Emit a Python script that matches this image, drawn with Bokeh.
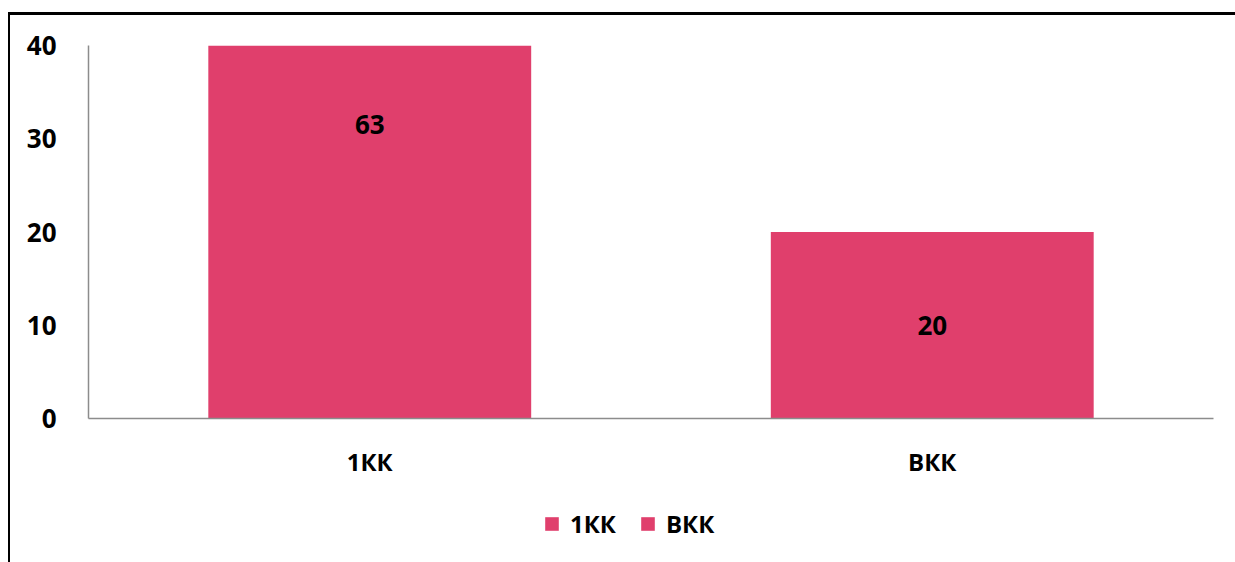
from bokeh.plotting import figure
from bokeh.models import ColumnDataSource, FactorRange, Range1d, Legend, LegendItem, LabelSet
from bokeh.core.properties import value
from bokeh.layouts import column
from bokeh.embed import file_html
from bokeh.resources import INLINE

categories = ["1КК", "ВКК"]
values = [63, 20]
y_ticks = [0, 10, 20, 30, 40]
bar_color = "#E03F6C"
FONT = "Open Sans"

src = ColumnDataSource(dict(
    cat=categories,
    val=values,
    mid=[v / 2 for v in values],
    lab=[str(v) for v in values],
    color=[bar_color] * len(values),
))

W, H = 1225, 547
H1 = 470
p = figure(
    x_range=FactorRange(*categories, range_padding=0),
    y_range=Range1d(0, 40),
    width=W, height=H1,
    output_backend="svg", toolbar_location=None,
    min_border_left=78, min_border_right=22, min_border_top=30, min_border_bottom=H1 - 403,
)
p.outline_line_color = None
p.xgrid.grid_line_color = None
p.ygrid.grid_line_color = None

r = p.vbar(x="cat", top="val", width=0.574, source=src, fill_color="color", line_color=None)

labels = LabelSet(x="cat", y="mid", text="lab", source=src, text_align="center", text_baseline="middle",
                  text_font=value(FONT), text_font_style="bold", text_font_size="26px", text_color="black")
p.add_layout(labels)

for ax in (p.xaxis[0], p.yaxis[0]):
    ax.axis_line_color = "#8c8c8c"
    ax.axis_line_width = 1.5
    ax.major_tick_line_color = None
    ax.minor_tick_line_color = None
    ax.major_label_text_font = FONT
    ax.major_label_text_font_style = "bold"
    ax.major_label_text_color = "black"

p.yaxis.ticker = y_ticks
p.yaxis.major_label_text_font_size = "26px"
p.yaxis.major_label_standoff = 26
p.xaxis.major_label_text_font_size = "24px"
p.xaxis.major_label_standoff = 20

# legend in its own strip below the chart
lf = figure(width=W, height=H - H1, x_range=Range1d(0, 1), y_range=Range1d(0, 1),
            output_backend="svg", toolbar_location=None,
            min_border_left=78, min_border_right=22, min_border_top=0, min_border_bottom=0)
lf.axis.visible = False
lf.grid.visible = False
lf.outline_line_color = None
lr = lf.vbar(x=[0.5], bottom=[-100], top=[-99], width=0.1, fill_color=bar_color, line_color=None)

items = [LegendItem(label=c, renderers=[lr]) for c in categories]
legend = Legend(items=items, orientation="horizontal", location=(455, 22),
                glyph_width=17, glyph_height=17, label_standoff=10, spacing=23,
                padding=0, margin=0, border_line_color=None, background_fill_alpha=0,
                label_text_font=FONT, label_text_font_style="bold", label_text_font_size="24px",
                label_text_color="black", label_height=17)
lf.add_layout(legend, "center")

layout = column(p, lf, spacing=0, margin=(12, 0, 0, 8),
                styles={"border-left": "2px solid black", "border-top": "3px solid black"})

open("out.html", "w").write(file_html(layout, INLINE))
